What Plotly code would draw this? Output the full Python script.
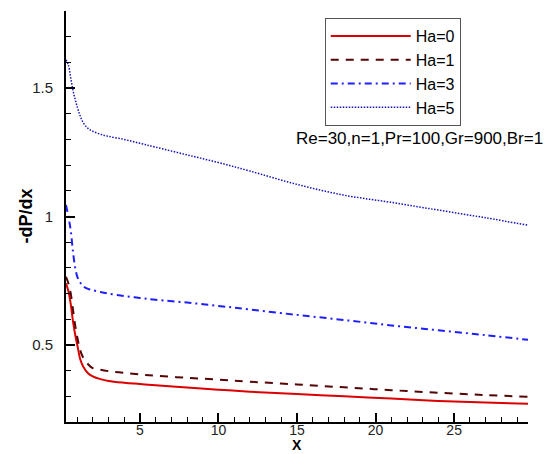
import plotly.graph_objects as go

# x positions (shared by all series)
x_vals = [0.3, 0.45, 0.6, 0.75, 0.9, 1.05, 1.2, 1.4, 1.7, 2.0, 2.5, 3, 4, 5, 6, 8,
          10, 12, 15, 18, 21, 24, 27, 29.7]

ha0 = [0.74, 0.71, 0.66, 0.59, 0.535, 0.49, 0.445, 0.415, 0.39, 0.378, 0.367, 0.36,
       0.353, 0.348, 0.343, 0.334, 0.326, 0.318, 0.309, 0.300, 0.291, 0.282, 0.276, 0.271]
ha1 = [0.765, 0.74, 0.70, 0.635, 0.57, 0.52, 0.48, 0.45, 0.425, 0.41, 0.403, 0.398,
       0.391, 0.385, 0.380, 0.372, 0.365, 0.357, 0.346, 0.335, 0.324, 0.314, 0.305, 0.298]
ha3 = [1.045, 1.0, 0.946, 0.86, 0.795, 0.76, 0.743, 0.728, 0.718, 0.713, 0.706, 0.70,
       0.69, 0.683, 0.676, 0.665, 0.652, 0.638, 0.617, 0.597, 0.576, 0.557, 0.538, 0.520]
ha5 = [1.61, 1.59, 1.54, 1.49, 1.452, 1.42, 1.392, 1.365, 1.343, 1.332, 1.32, 1.312,
       1.300, 1.285, 1.27, 1.24, 1.21, 1.177, 1.125, 1.083, 1.055, 1.025, 0.995, 0.966]

series_names = ["Ha=0", "Ha=1", "Ha=3", "Ha=5"]
series_vals = [ha0, ha1, ha3, ha5]
styles = [
    dict(color="rgb(220,0,0)", width=2, dash="solid"),
    dict(color="rgb(85,5,5)", width=2, dash="8px,7px"),
    dict(color="rgb(30,30,255)", width=2, dash="7px,4px,2px,4px"),
    dict(color="rgb(20,20,185)", width=1.5, dash="1.5px,1.5px"),
]

annotation_text = "Re=30,n=1,Pr=100,Gr=900,Br=1"
x_title = "X"
y_title = "-dP/dx"

fig = go.Figure()
for name, vals, st in zip(series_names, series_vals, styles):
    fig.add_trace(go.Scatter(x=x_vals, y=vals, mode="lines", name=name, line=st,
                             line_shape="spline"))

font_family = "Liberation Sans, Arial, sans-serif"

# The page body has an 8px margin, so the figure is 8px smaller and its margins compensate.
fig.update_layout(
    width=545, height=446,
    margin=dict(l=58, r=25, t=3, b=32, autoexpand=False),
    plot_bgcolor="white", paper_bgcolor="white",
    font=dict(family=font_family, size=15, color="#222"),
    showlegend=True,
    legend=dict(
        x=0.560, y=0.983, xanchor="left", yanchor="top",
        bordercolor="#555", borderwidth=1, bgcolor="white",
        font=dict(size=16, color="black"),
        itemwidth=80,
    ),
    annotations=[
        dict(text=annotation_text, xref="paper", yref="paper",
             x=1.0375, y=0.690, xanchor="right", yanchor="middle",
             showarrow=False, font=dict(size=17, color="black", family=font_family)),
        dict(text="<b>" + x_title + "</b>", xref="paper", yref="paper",
             x=0.5, y=0, xanchor="center", yanchor="bottom", yshift=-32,
             borderpad=0,
             showarrow=False, font=dict(size=14, color="black", family=font_family)),
        dict(text="<b>" + y_title + "</b>", xref="paper", yref="paper",
             x=-0.0887, y=0.5, xanchor="center", yanchor="middle", textangle=-90,
             showarrow=False, font=dict(size=18, color="black", family=font_family)),
    ],
)

fig.update_xaxes(
    range=[0.3, 29.7], showgrid=False, zeroline=False, automargin=False,
    showline=True, linecolor="black", linewidth=2,
    ticks="inside", ticklen=9, tickwidth=2, tickcolor="black",
    tick0=0, dtick=5,
    minor=dict(ticks="inside", ticklen=5, tickwidth=1, tickcolor="black", dtick=1, tick0=0),
    tickfont=dict(size=14, color="#222"),
    ticklabelstandoff=-6,
)
fig.update_yaxes(
    range=[0.2, 1.8], showgrid=False, zeroline=False, automargin=False,
    showline=True, linecolor="black", linewidth=2,
    ticks="inside", ticklen=9, tickwidth=2, tickcolor="black",
    tick0=0, dtick=0.5,
    minor=dict(ticks="inside", ticklen=5, tickwidth=1, tickcolor="black", dtick=0.1, tick0=0),
    tickfont=dict(size=15, color="#222"),
    ticklabelstandoff=8,
)

fig.write_html("out.html")
